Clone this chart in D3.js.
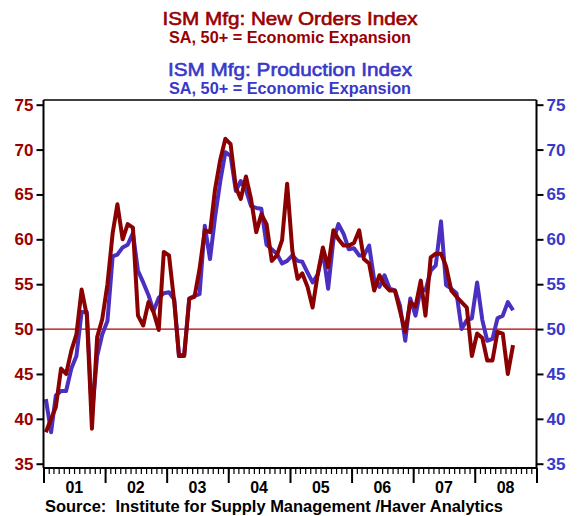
<!DOCTYPE html>
<html>
<head>
<meta charset="utf-8">
<script src="https://cdn.jsdelivr.net/npm/d3@7"></script>
<style>
body { margin: 0; background: #fff; }
text { font-family: "Liberation Sans", Arial, sans-serif; }
</style>
</head>
<body>
<div id="chart"></div>
<script>
// ISM new orders (red), monthly, Jan 2001 - Aug 2008
var newOrders = [
    38.5, 40.0, 41.3, 45.6, 45.0, 47.6, 49.4, 54.4, 51.5, 38.9, 49.1, 51.1,
    55.0, 60.7, 63.9, 60.0, 61.7, 61.3, 51.5, 50.4, 53.0, 51.9, 49.9, 58.6,
    58.2, 53.0, 47.0, 47.0, 53.4, 53.6, 56.7, 61.0, 60.8, 65.6, 68.9, 71.2,
    70.6, 65.8, 64.5, 67.0, 64.5, 60.8, 62.8, 61.7, 57.6, 58.2, 59.9, 66.2,
    58.7, 55.6, 56.2, 54.7, 52.4, 56.2, 59.1, 56.9, 61.0, 60.0, 59.3, 59.3,
    59.6, 61.0, 57.8, 57.3, 54.3, 56.0, 54.9, 54.3, 54.3, 52.0, 49.7, 53.0,
    52.5, 55.4, 51.5, 58.0, 58.4, 58.4, 57.0, 54.3, 53.6, 53.0, 52.4, 47.0,
    49.5, 49.0, 46.5, 46.5, 49.7, 49.5, 45.0, 48.2
];

// ISM production (blue)
var production = [
    42.2, 38.5, 42.6, 43.1, 43.1, 45.6, 47.0, 51.9, 51.9, 40.5, 47.0, 49.4,
    50.9, 58.1, 58.3, 59.1, 59.4, 60.7, 56.5, 55.2, 53.8, 52.0, 53.5, 54.0,
    54.1, 53.3, 47.0, 47.2, 53.4, 53.7, 53.9, 61.5, 57.8, 62.5, 66.5, 69.7,
    69.3, 65.4, 66.5, 65.5, 63.7, 63.5, 63.4, 59.4, 58.9, 58.4, 57.3, 57.6,
    58.2, 57.6, 57.5, 56.3, 55.2, 56.1, 58.7, 54.5, 59.9, 61.7, 60.6, 58.9,
    59.0, 58.2, 58.2, 59.3, 55.5, 54.7, 56.0, 54.5, 54.3, 52.6, 48.7, 53.4,
    51.5, 54.5, 54.3, 56.5, 57.1, 62.0, 54.9, 54.5, 54.0, 50.0, 51.0, 51.2,
    55.2, 51.0, 48.7, 48.9, 51.2, 51.5, 53.0, 52.1
];

var yTicks = [35, 40, 45, 50, 55, 60, 65, 70, 75];
var yearLabels = ["01", "02", "03", "04", "05", "06", "07", "08"];

var titleLines = [
    {text: "ISM Mfg: New Orders Index", color: "#990000", size: 19, weight: "normal", y: 25, len: 255},
    {text: "SA, 50+ = Economic Expansion", color: "#990000", size: 16, weight: "bold", y: 43, len: 242},
    {text: "ISM Mfg: Production Index", color: "#3838C8", size: 19, weight: "normal", y: 76, len: 244},
    {text: "SA, 50+ = Economic Expansion", color: "#3838C8", size: 16, weight: "bold", y: 94, len: 242}
];

var width = 577, height = 516;
var plotLeft = 43.5, plotRight = 536.5, plotTop = 100, plotBottom = 468;

var svg = d3.select("#chart").append("svg")
    .attr("width", width)
    .attr("height", height);

// months, mid-month
var months = newOrders.map(function(v, i) { return new Date(2001, i, 15); });

var x = d3.scaleTime()
    .domain([new Date(2001, 0, 1), new Date(2009, 0, 1)])
    .range([plotLeft, plotRight]);

var y = d3.scaleLinear()
    .domain([35, 75])
    .range([463.7, 104.7]);

// titles
svg.selectAll(".title")
    .data(titleLines)
    .enter().append("text")
    .attr("x", (plotLeft + plotRight) / 2)
    .attr("y", function(d) { return d.y; })
    .attr("text-anchor", "middle")
    .attr("fill", function(d) { return d.color; })
    .attr("stroke", function(d) { return d.weight == "normal" ? d.color : "none"; })
    .attr("stroke-width", 0.6)
    .attr("font-size", function(d) { return d.size; })
    .attr("font-weight", function(d) { return d.weight; })
    .attr("textLength", function(d) { return d.len; })
    .attr("lengthAdjust", "spacingAndGlyphs")
    .text(function(d) { return d.text; });

// 50 line
svg.append("line")
    .attr("x1", plotLeft).attr("x2", plotRight)
    .attr("y1", y(50)).attr("y2", y(50))
    .attr("stroke", "#B00000")
    .attr("stroke-width", 1.2);

// series
var line = d3.line()
    .x(function(d, i) { return x(months[i]); })
    .y(function(d) { return y(d); });

svg.append("path")
    .datum(production)
    .attr("d", line)
    .attr("fill", "none")
    .attr("stroke", "#4A2FC0")
    .attr("stroke-width", 4)
    .attr("stroke-linejoin", "round");

svg.append("path")
    .datum(newOrders)
    .attr("d", line)
    .attr("fill", "none")
    .attr("stroke", "#8B0000")
    .attr("stroke-width", 4)
    .attr("stroke-linejoin", "round");

// top frame line
svg.append("line")
    .attr("x1", plotLeft).attr("x2", plotRight)
    .attr("y1", plotTop).attr("y2", plotTop)
    .attr("stroke", "#000").attr("stroke-width", 1.5);

// left axis
var yLeft = svg.append("g")
    .attr("transform", "translate(" + plotLeft + ",0)")
    .call(d3.axisLeft(y).tickValues(yTicks).tickSize(7).tickPadding(3));
yLeft.select(".domain").attr("d", "M0," + plotTop + "V" + plotBottom).attr("stroke-width", 2);
yLeft.selectAll(".tick line").attr("stroke-width", 2);
yLeft.selectAll("text")
    .attr("fill", "#990000")
    .attr("font-size", 17)
    .attr("font-weight", "bold")
    .attr("font-family", "Liberation Sans, Arial, sans-serif");

// right axis
var yRight = svg.append("g")
    .attr("transform", "translate(" + plotRight + ",0)")
    .call(d3.axisRight(y).tickValues(yTicks).tickSize(7).tickPadding(3));
yRight.select(".domain").attr("d", "M0," + plotTop + "V" + plotBottom).attr("stroke-width", 2);
yRight.selectAll(".tick line").attr("stroke-width", 2);
yRight.selectAll("text")
    .attr("fill", "#3838C8")
    .attr("font-size", 17)
    .attr("font-weight", "bold")
    .attr("font-family", "Liberation Sans, Arial, sans-serif");

// bottom axis: monthly minor ticks, year major ticks
var xMinor = svg.append("g")
    .attr("transform", "translate(0," + plotBottom + ")")
    .call(d3.axisBottom(x).ticks(d3.timeMonth.every(1)).tickSize(6).tickFormat(""));
xMinor.select(".domain").attr("d", "M" + plotLeft + ",0H" + plotRight).attr("stroke-width", 2);
xMinor.selectAll(".tick line").attr("stroke-width", 1.2);

var xMajor = svg.append("g")
    .attr("transform", "translate(0," + plotBottom + ")")
    .call(d3.axisBottom(x).ticks(d3.timeYear.every(1)).tickSize(15).tickFormat(""));
xMajor.select(".domain").remove();
xMajor.selectAll(".tick line").attr("stroke-width", 2);

// year labels centred in each year
svg.selectAll(".yr")
    .data(yearLabels)
    .enter().append("text")
    .attr("x", function(d, i) { return (x(new Date(2001 + i, 0, 1)) + x(new Date(2002 + i, 0, 1))) / 2; })
    .attr("y", 493)
    .attr("text-anchor", "middle")
    .attr("font-size", 16)
    .attr("font-weight", "bold")
    .attr("fill", "#000")
    .text(function(d) { return d; });

svg.append("text")
    .attr("x", 45)
    .attr("y", 512)
    .attr("font-size", 16)
    .attr("font-weight", "bold")
    .attr("fill", "#000")
    .attr("textLength", 458)
    .attr("lengthAdjust", "spacingAndGlyphs")
    .attr("xml:space", "preserve")
    .text("Source:  Institute for Supply Management /Haver Analytics");
</script>
</body>
</html>
